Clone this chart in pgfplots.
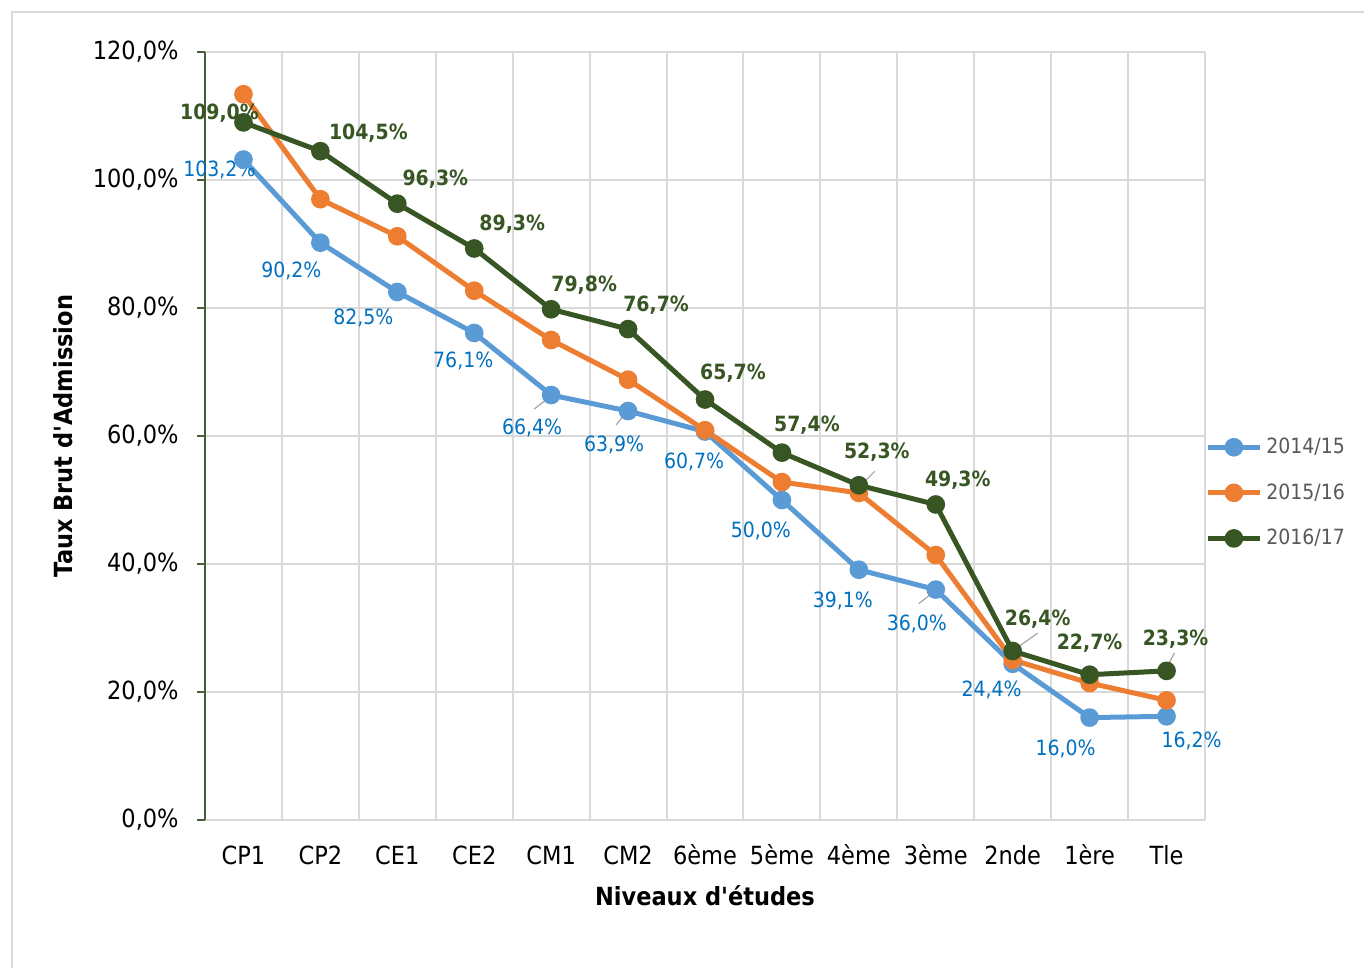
\documentclass[border=0pt]{standalone}
\usepackage{fontspec}
\setmainfont{DejaVu Sans Condensed}
\usepackage{pgfplots}
\pgfplotsset{compat=1.18}

\definecolor{cblue}{HTML}{5B9BD5}
\definecolor{corange}{HTML}{ED7D31}
\definecolor{cgreen}{HTML}{375623}
\definecolor{lblue}{HTML}{0070C0}
\definecolor{gridc}{HTML}{D9D9D9}
\definecolor{legtxt}{HTML}{595959}

% label helpers: x index, value, dx px, dy px (up), text
\newcommand{\bl}[5]{\node[font=\fontsize{10.5}{12}\selectfont,text=lblue,inner sep=0pt]
  at ([xshift=#3*0.5pt,yshift=#4*0.5pt]axis cs:#1,#2) {#5};}
\newcommand{\gl}[5]{\node[font=\fontsize{10.5}{12}\selectfont\bfseries,text=cgreen,inner sep=0pt]
  at ([xshift=#3*0.5pt,yshift=#4*0.5pt]axis cs:#1,#2) {#5};}
\newcommand{\lead}[6]{\draw[gray!70,line width=0.6pt]
  ([xshift=#3*0.5pt,yshift=#4*0.5pt]axis cs:#1,#2) -- ([xshift=#5*0.5pt,yshift=#6*0.5pt]axis cs:#1,#2);}

\begin{document}
\begin{tikzpicture}
\useasboundingbox (-102.5pt,-74pt) rectangle (579.5pt,410pt);
\draw[gridc,line width=0.8pt] (-96.5pt,-74pt) -- (-96.5pt,404pt) -- (579.5pt,404pt);
\begin{axis}[
  at={(0,0)}, anchor=south west,
  scale only axis, width=500pt, height=384pt,
  xmin=-0.5, xmax=12.5, ymin=0, ymax=120,
  axis x line*=bottom, axis y line*=left,
  x axis line style={gridc,line width=1pt,-},
  y axis line style={cgreen!80!gray,line width=0.6pt,-},
  xtick={0,...,12},
  xticklabels={CP1,CP2,CE1,CE2,CM1,CM2,6ème,5ème,4ème,3ème,2nde,1ère,Tle},
  minor xtick={-0.5,0.5,...,12.5},
  xminorgrids=true, ymajorgrids=true,
  grid style={gridc,line width=1pt},
  minor grid style={gridc,line width=1pt},
  major x tick style={draw=none}, minor x tick style={draw=none},
  ytick={0,20,...,120},
  y tick style={cgreen!80!gray,line width=0.6pt},
  tick align=outside, major tick length=4pt,
  /pgf/number format/assume math mode=true,
  yticklabel={\pgfmathprintnumber[fixed,fixed zerofill,precision=1,use comma]{\tick}\%},
  tick label style={font=\fontsize{12.5}{15}\selectfont},
  xticklabel style={anchor=base,yshift=-18pt},
  yticklabel style={anchor=east,inner sep=0pt,xshift=-9pt},
  xlabel={Niveaux d\textquotesingle études}, ylabel={Taux Brut d\textquotesingle Admission},
  label style={font=\fontsize{12.5}{15}\selectfont\bfseries},
  xlabel style={at={(axis description cs:0.5,0)},anchor=center,yshift=-38pt},
  ylabel style={at={(axis description cs:-0.142,0.5)},anchor=center},
  clip=false,
  legend style={at={(1.0,0.426)},anchor=west,draw=none,fill=none,
    font=\fontsize{10.5}{12}\selectfont,text=legtxt,
    row sep=9.5pt,inner sep=0pt},
  legend cell align=left,
  legend image code/.code={\draw[#1,mark repeat=2,mark phase=2]
    plot coordinates {(0pt,0pt)(13pt,0pt)(26pt,0pt)};},
]
\addplot[cblue,line width=2.5pt,mark=*,mark size=3.4pt] coordinates {
(0,103.2)(1,90.2)(2,82.5)(3,76.1)(4,66.4)(5,63.9)(6,60.7)(7,50.0)(8,39.1)(9,36.0)(10,24.4)(11,16.0)(12,16.2)};
\addlegendentry{2014/15}
\addplot[corange,line width=2.5pt,mark=*,mark size=3.4pt] coordinates {
(0,113.4)(1,97.0)(2,91.2)(3,82.7)(4,75.0)(5,68.8)(6,60.9)(7,52.8)(8,51.1)(9,41.4)(10,25.0)(11,21.4)(12,18.7)};
\addlegendentry{2015/16}
\addplot[cgreen,line width=2.5pt,mark=*,mark size=3.4pt] coordinates {
(0,109.0)(1,104.5)(2,96.3)(3,89.3)(4,79.8)(5,76.7)(6,65.7)(7,57.4)(8,52.3)(9,49.3)(10,26.4)(11,22.7)(12,23.3)};
\addlegendentry{2016/17}

% leader lines
\lead{4}{66.4}{-4}{-4}{-17}{-14}
\lead{5}{63.9}{-4}{-4}{-12}{-14}
\lead{9}{36.0}{-4}{-4}{-17}{-14}
\lead{8}{52.3}{5}{3}{16}{14}
\lead{10}{26.4}{4}{3}{25}{18}
\lead{12}{23.3}{1}{5}{8}{18}

\bl{0}{103.2}{-24}{-10}{103,2\%}
\bl{1}{90.2}{-29}{-28}{90,2\%}
\bl{2}{82.5}{-34}{-26}{82,5\%}
\bl{3}{76.1}{-11}{-28}{76,1\%}
\bl{4}{66.4}{-19}{-33}{66,4\%}
\bl{5}{63.9}{-14}{-34}{63,9\%}
\bl{6}{60.7}{-11}{-30}{60,7\%}
\bl{7}{50.0}{-21}{-31}{50,0\%}
\bl{8}{39.1}{-16}{-31}{39,1\%}
\bl{9}{36.0}{-19}{-34}{36,0\%}
\bl{10}{24.4}{-21}{-26}{24,4\%}
\bl{11}{16.0}{-24}{-31}{16,0\%}
\bl{12}{16.2}{25}{-25}{16,2\%}

\gl{0}{109.0}{-24}{9}{109,0\%}
\gl{1}{104.5}{48}{18}{104,5\%}
\gl{2}{96.3}{38}{24}{96,3\%}
\gl{3}{89.3}{38}{24}{89,3\%}
\gl{4}{79.8}{33}{24}{79,8\%}
\gl{5}{76.7}{28}{24}{76,7\%}
\gl{6}{65.7}{28}{26}{65,7\%}
\gl{7}{57.4}{25}{27}{57,4\%}
\gl{8}{52.3}{18}{33}{52,3\%}
\gl{9}{49.3}{22}{24}{49,3\%}
\gl{10}{26.4}{25}{32}{26,4\%}
\gl{11}{22.7}{0}{32}{22,7\%}
\gl{12}{23.3}{9}{32}{23,3\%}
\end{axis}
\end{tikzpicture}
\end{document}
